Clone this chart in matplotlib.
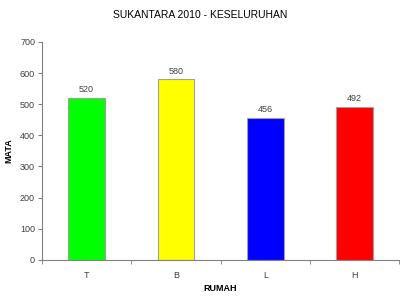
import matplotlib
matplotlib.use("Agg")
import matplotlib.pyplot as plt
import numpy as np

# data
rumah = ["T", "B", "L", "H"]
mata = [520, 580, 456, 492]
warna = ["#00ff00", "#ffff00", "#0000ff", "#ff0000"]

plt.rcParams["font.family"] = ["Liberation Sans", "DejaVu Sans"]

fig = plt.figure(figsize=(4, 2.97), dpi=100)
ax = fig.add_axes([0.105, 0.125, 0.893, 0.734])

x = np.arange(len(rumah))
bars = ax.bar(x, mata, width=0.41, color=warna, edgecolor="#a0a0a0", linewidth=0.8)

for xi, v in zip(x, mata):
    ax.text(xi, v + 12, str(v), ha="center", va="bottom", fontsize=6.5, color="#404040")

ax.set_xlim(-0.5, len(rumah) - 0.5)
ax.set_ylim(0, 700)
ax.set_yticks(range(0, 701, 100))
ax.set_xticks(x)
ax.set_xticklabels(rumah)
ax.set_xticks(np.arange(-0.5, len(rumah), 1), minor=True)

ax.tick_params(axis="x", which="major", length=0, pad=8, labelsize=6.5, labelcolor="#404040")
ax.tick_params(axis="x", which="minor", length=3, color="#808080", direction="out")
ax.tick_params(axis="y", length=3, color="#808080", labelsize=6.5, labelcolor="#404040", pad=2)

for s in ["top", "right"]:
    ax.spines[s].set_visible(False)
for s in ["left", "bottom"]:
    ax.spines[s].set_color("#808080")
    ax.spines[s].set_linewidth(0.8)

ax.set_ylabel("MATA", fontsize=6.5, fontweight="bold", labelpad=5)
ax.set_xlabel("RUMAH", fontsize=6.5, fontweight="bold", labelpad=3)
fig.text(0.5, 0.95, "SUKANTARA 2010 - KESELURUHAN", ha="center", va="center", fontsize=7.5)

fig.savefig("out.png", dpi=100)
